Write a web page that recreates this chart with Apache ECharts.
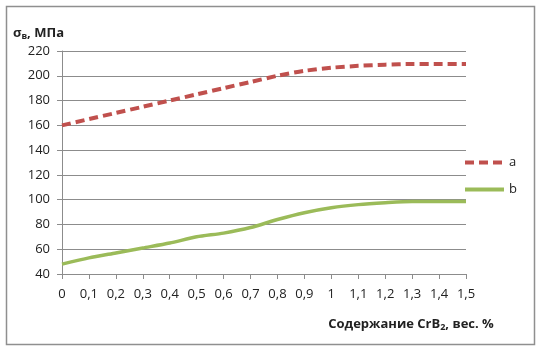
<!DOCTYPE html>
<html><head><meta charset="utf-8">
<script src="https://cdn.jsdelivr.net/npm/echarts@6/dist/echarts.min.js"></script>
<style>html,body{margin:0;padding:0;background:#fff}#c{width:539px;height:346px}</style>
</head><body><div id="c"></div>
<script>
var categories = ['0','0,1','0,2','0,3','0,4','0,5','0,6','0,7','0,8','0,9','1','1,1','1,2','1,3','1,4','1,5'];
var seriesA = [160,165,170,175,180,185,190,195,200,204,206.5,208,209,209.5,209.5,209.5];
var seriesB = [48,53,57,61,65,70,73,77.5,84,89.5,93.5,96,97.5,98.5,98.5,98.5];
var yTicks = {min: 40, max: 220, step: 20};

var FONT = 'Open Sans';
var chart = echarts.init(document.getElementById('c'), null, {renderer: 'canvas'});
chart.setOption({
  animation: false,
  backgroundColor: '#fff',
  grid: {left: 62, right: 73, top: 51, bottom: 72, containLabel: false},
  graphic: [{
    type: 'rect', left: 4, top: 4, silent: true,
    shape: {width: 528, height: 338},
    style: {fill: 'none', stroke: '#8f8f8f', lineWidth: 1.5}
  }],
  legend: {
    orient: 'vertical', left: 458, top: 151, itemGap: 14, itemWidth: 39, itemHeight: 14,
    itemStyle: {opacity: 0},
    lineStyle: {width: 4},
    textStyle: {fontFamily: FONT, fontSize: 13, color: '#222'},
    data: ['a', 'b']
  },
  xAxis: {
    type: 'category', data: categories, boundaryGap: false,
    axisLine: {lineStyle: {color: '#8c8c8c', width: 1}},
    axisTick: {show: true, length: 5, lineStyle: {color: '#8c8c8c'}},
    axisLabel: {fontFamily: FONT, fontSize: 13, color: '#222', margin: 14, interval: 0},
    name: '{n|Содержание CrB}{s|2}{n|, вес. %}',
    nameLocation: 'middle', nameGap: 42,
    nameTextStyle: {
      padding: [0, 0, 0, 294],
      rich: {
        n: {fontFamily: FONT, fontSize: 13, fontWeight: 'bold', color: '#222'},
        s: {fontFamily: FONT, fontSize: 9, fontWeight: 'bold', color: '#222', padding: [7, 0, 0, 0]}
      }
    }
  },
  yAxis: {
    type: 'value', min: yTicks.min, max: yTicks.max, interval: yTicks.step,
    axisLine: {show: true, lineStyle: {color: '#8c8c8c', width: 1}},
    axisTick: {show: true, length: 5, lineStyle: {color: '#8c8c8c'}},
    axisLabel: {fontFamily: FONT, fontSize: 13, color: '#222', margin: 12},
    splitLine: {show: true, lineStyle: {color: '#8c8c8c', width: 1}},
    name: '{n|σ}{s|в}{n|, МПа}',
    nameLocation: 'end', nameGap: 10,
    nameTextStyle: {
      align: 'right', padding: [0, -2, 0, 0],
      rich: {
        n: {fontFamily: FONT, fontSize: 13, fontWeight: 'bold', color: '#222'},
        s: {fontFamily: FONT, fontSize: 9, fontWeight: 'bold', color: '#222', padding: [7, 0, 0, 0]}
      }
    }
  },
  series: [{
    name: 'a', type: 'line', data: seriesA, smooth: 0.25, symbol: 'none',
    lineStyle: {color: '#c0504d', width: 4, type: [9, 5]},
    itemStyle: {color: '#c0504d'}
  }, {
    name: 'b', type: 'line', data: seriesB, smooth: 0.25, symbol: 'none',
    lineStyle: {color: '#9bbb59', width: 3.5},
    itemStyle: {color: '#9bbb59'}
  }]
});
</script></body></html>
